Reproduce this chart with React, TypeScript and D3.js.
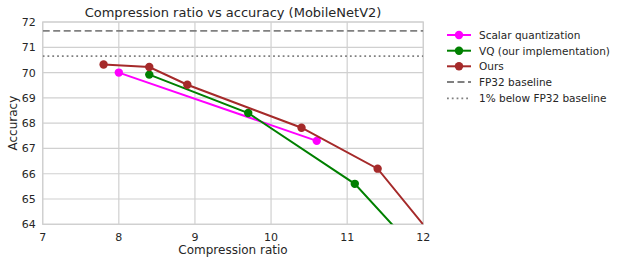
import React from "react";
import * as d3 from "d3";

const scalarX = [8.0, 10.6];
const scalarY = [70.0, 67.3];
const vqX = [8.4, 9.7, 11.1, 12.0];
const vqY = [69.92, 68.4, 65.6, 62.65];
const oursX = [7.8, 8.4, 8.9, 10.4, 11.4, 12.2];
const oursY = [70.32, 70.22, 69.52, 67.82, 66.2, 63.25];
const fp32Baseline = 71.65;
const oneBelow = 70.65;
const xTicks = [7, 8, 9, 10, 11, 12];
const yTicks = [64, 65, 66, 67, 68, 69, 70, 71, 72];
const seriesNames = ["Scalar quantization", "VQ (our implementation)", "Ours"];
const refNames = ["FP32 baseline", "1% below FP32 baseline"];

const W = 623, H = 264;
const L = 42.7, R = 423.3, T = 22, B = 224.3;
const FONT = "'DejaVu Sans', sans-serif";

export default function App() {
  const x = d3.scaleLinear().domain([7, 12]).range([L, R]);
  const y = d3.scaleLinear().domain([64, 72]).range([B, T]);
  const line = d3.line<[number, number]>().x(d => x(d[0])).y(d => y(d[1]));
  const series = [
    { name: seriesNames[0], xs: scalarX, ys: scalarY, color: "#ff00ff" },
    { name: seriesNames[1], xs: vqX, ys: vqY, color: "#008000" },
    { name: seriesNames[2], xs: oursX, ys: oursY, color: "#a52a2a" },
  ];
  const legendY = [35, 50.7, 66.3, 82, 98.3];
  return (
    <svg width={W} height={H} style={{ position: "absolute", left: 0, top: 0 }} fontFamily={FONT}>
      <rect width={W} height={H} fill="#fff" />
      <defs>
        <clipPath id="plot">
          <rect x={L} y={T} width={R - L} height={B - T} />
        </clipPath>
      </defs>
      {xTicks.map(t => (
        <line key={"gx" + t} x1={x(t)} x2={x(t)} y1={T} y2={B} stroke="#d0d0d0" strokeWidth={1.2} />
      ))}
      {yTicks.map(t => (
        <line key={"gy" + t} x1={L} x2={R} y1={y(t)} y2={y(t)} stroke="#d0d0d0" strokeWidth={1.2} />
      ))}
      <rect x={L} y={T} width={R - L} height={B - T} fill="none" stroke="#d0d0d0" strokeWidth={1.2} />
      <g clipPath="url(#plot)">
        <line x1={L} x2={R} y1={y(fp32Baseline)} y2={y(fp32Baseline)} stroke="#808080" strokeWidth={1.8} strokeDasharray="7,3.5" />
        <line x1={L} x2={R} y1={y(oneBelow)} y2={y(oneBelow)} stroke="#808080" strokeWidth={1.8} strokeDasharray="1.8,3" />
        {series.map(s => {
          const pts = s.xs.map((v, i) => [v, s.ys[i]] as [number, number]);
          return (
            <g key={s.name}>
              <path d={line(pts) || ""} fill="none" stroke={s.color} strokeWidth={2} />
              {pts.map((p, i) => (
                <circle key={i} cx={x(p[0])} cy={y(p[1])} r={4.2} fill={s.color} />
              ))}
            </g>
          );
        })}
      </g>
      {xTicks.map(t => (
        <text key={"tx" + t} x={x(t)} y={B + 17} textAnchor="middle" fontSize={11} fill="#262626">{t}</text>
      ))}
      {yTicks.map(t => (
        <text key={"ty" + t} x={L - 7} y={y(t) + 4} textAnchor="end" fontSize={11} fill="#262626">{t}</text>
      ))}
      <text x={(L + R) / 2} y={254} textAnchor="middle" fontSize={12} fill="#262626">Compression ratio</text>
      <text transform={`translate(17,${(T + B) / 2}) rotate(-90)`} textAnchor="middle" fontSize={12} fill="#262626">Accuracy</text>
      <text x={(L + R) / 2} y={17} textAnchor="middle" fontSize={13} fill="#262626">Compression ratio vs accuracy (MobileNetV2)</text>
      {series.map((s, i) => (
        <g key={"lg" + i}>
          <line x1={447} x2={471} y1={legendY[i]} y2={legendY[i]} stroke={s.color} strokeWidth={2} />
          <circle cx={459} cy={legendY[i]} r={4.2} fill={s.color} />
          <text x={479} y={legendY[i] + 4} fontSize={10.5} fill="#262626">{s.name}</text>
        </g>
      ))}
      <line x1={447} x2={471} y1={legendY[3]} y2={legendY[3]} stroke="#808080" strokeWidth={1.8} strokeDasharray="7,3.5" />
      <text x={479} y={legendY[3] + 4} fontSize={10.5} fill="#262626">{refNames[0]}</text>
      <line x1={447} x2={471} y1={legendY[4]} y2={legendY[4]} stroke="#808080" strokeWidth={1.8} strokeDasharray="1.8,3" />
      <text x={479} y={legendY[4] + 4} fontSize={10.5} fill="#262626">{refNames[1]}</text>
    </svg>
  );
}
